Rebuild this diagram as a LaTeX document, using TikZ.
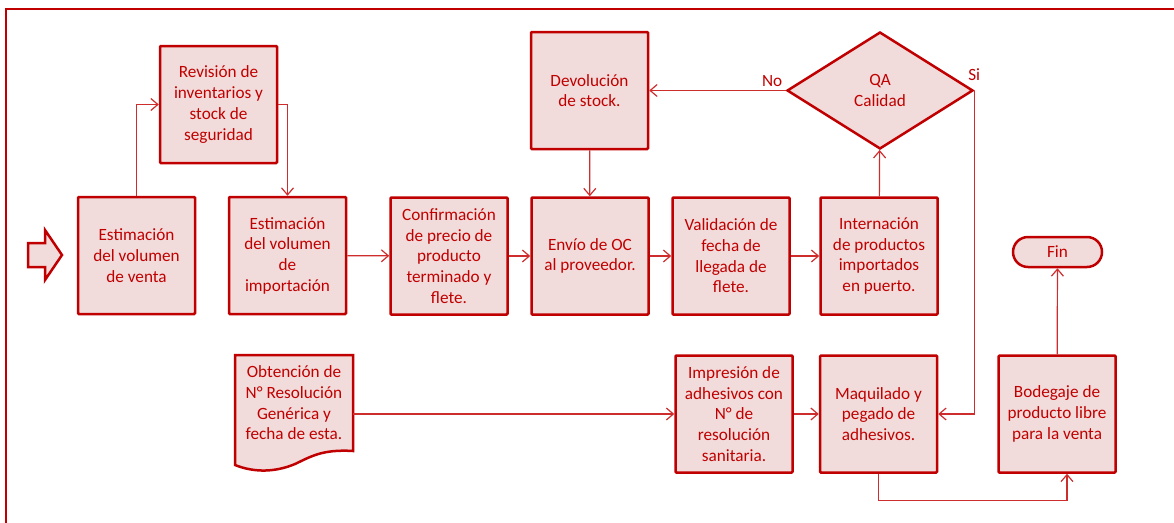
\documentclass[tikz,border=0pt]{standalone}
\usepackage{fontspec}
\setmainfont{Carlito}
\usetikzlibrary{arrows.meta,shapes.geometric}
\definecolor{rojo}{RGB}{192,0,0}
\definecolor{rosa}{RGB}{242,220,219}
\definecolor{linea}{RGB}{205,45,45}
\tikzset{
 texto/.style={text=rojo,align=center,font=\fontsize{17.2}{20.7}\selectfont},
 caja/.style={texto,draw=rojo,fill=rosa,line width=2.5pt,rounded corners=1pt,
  minimum width=117pt,minimum height=117pt,inner sep=2pt},
 rombo/.style={caja,diamond,minimum width=186pt,minimum height=117pt,rounded corners=0pt},
 terminal/.style={caja,minimum width=89pt,minimum height=30pt,rounded corners=15pt},
 doc/.style={draw=rojo,fill=rosa,line width=2.5pt},
 flecha/.style={draw=linea,line width=1.2pt,-{Straight Barb[length=7pt,width=12pt]}}
}
\begin{document}
\begin{tikzpicture}[x=1pt,y=-1pt]
\clip (0,0) rectangle (1174,522);
%Marco
\draw[rojo,line width=2pt] (6,9) rectangle (1200,560);
%Inicio
\draw[doc] (28,243)--(45,243)--(45,230)--(62,255)--(45,280)--(45,267)--(28,267)--cycle;
%Fila superior
\node[caja] (venta) at (136.5,255.5) {Estimación\\del volumen\\de venta};
\node[caja] (revision) at (218.5,104.5) {Revisión de\\inventarios y\\stock de\\seguridad};
\node[caja] (importacion) at (287.5,255.5) {Estimación\\del volumen\\de\\importación};
\node[caja] (confirmacion) at (449,256) {Confirmación\\de precio de\\producto\\terminado y\\flete.};
\node[caja] (envio) at (590,256) {Envío de OC\\al proveedor.};
\node[caja] (validacion) at (731,256) {Validación de\\fecha de\\llegada de\\flete.};
\node[caja] (internacion) at (879,256) {Internación\\de productos\\importados\\en puerto.};
\node[caja] (devolucion) at (589.5,90.5) {Devolución\\de stock.};
\node[rombo] (qa) at (880,90.5) {QA\\Calidad};
\node[texto,above left] (no) at (qa.west) {No};
\node[texto,above=6pt] (si) at (qa.east) {Si};
%Fila inferior
\draw[doc] (235,355)--(353,355)--(353,451) .. controls (322,449) and (310,457) .. (295,464)
 .. controls (276,472) and (255,473) .. (235,465)--cycle;
\node[texto,minimum width=118pt] (obtencion) at (294,403) {Obtención de\\N° Resolución\\Genérica y\\fecha de esta.};
\node[caja] (impresion) at (734,414) {Impresión de\\adhesivos con\\N° de\\resolución\\sanitaria.};
\node[caja] (maquilado) at (878.5,414) {Maquilado y\\pegado de\\adhesivos.};
\node[caja] (bodegaje) at (1057,414) {Bodegaje de\\producto libre\\para la venta};
\node[terminal] (fin) at (1057.5,252) {Fin};
%Flechas
\draw[flecha] (venta.north) |- (revision.west);
\draw[flecha] (revision.east) -| (importacion.north);
\draw[flecha] (importacion) -- (confirmacion);
\draw[flecha] (confirmacion) -- (envio);
\draw[flecha] (envio) -- (validacion);
\draw[flecha] (validacion) -- (internacion);
\draw[flecha] (internacion) -- (qa);
\draw[flecha] (qa.west) -- (devolucion.east);
\draw[flecha] (devolucion) -- (envio);
\draw[flecha] (qa.east) |- (maquilado.east);
\draw[flecha] (obtencion.east |- impresion.west) -- (impresion.west);
\draw[flecha] (impresion) -- (maquilado);
\draw[flecha] (maquilado.south) -- ++(0,27) -| ([xshift=10pt]bodegaje.south);
\draw[flecha] (bodegaje) -- (fin);
\end{tikzpicture}
\end{document}
